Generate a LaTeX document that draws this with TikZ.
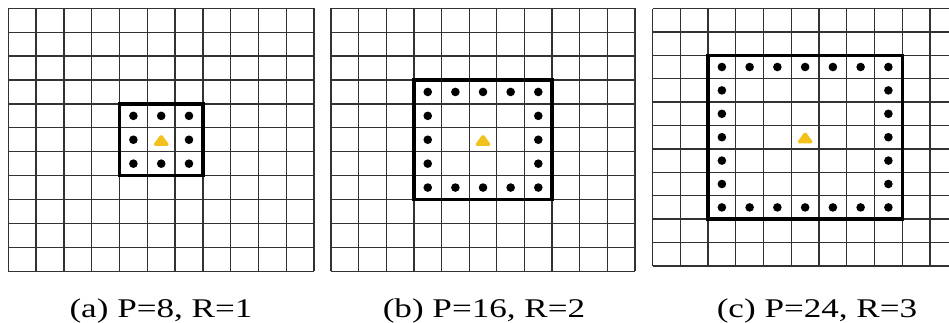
\documentclass[tikz,border=0pt]{standalone}
\usepackage{fontspec}
\setmainfont{Liberation Serif}
\definecolor{triyellow}{RGB}{243,193,30}
\definecolor{gridgray}{RGB}{50,50,50}
\tikzset{
  gridline/.style={draw=gridgray, line width=1.3pt},
  boxline/.style={draw=black, line width=3.4pt, line join=miter},
  dotmark/.style={fill=black},
  trimark/.style={fill=triyellow, draw=triyellow, line width=1.2pt, rounded corners=1.5pt},
  caption/.style={anchor=base, inner sep=0pt, font=\fontsize{27}{30}\selectfont}
}
% #1 left, #2 top, #3 cell width, #4 cell height, #5 first box index, #6 last box index
\newcommand{\drawpanel}[6]{%
  \foreach \i in {0,...,11}{
    \draw[gridline] ({#1+\i*#3},{#2}) -- ({#1+\i*#3},{#2+11*#4});
    \draw[gridline] ({#1},{#2+\i*#4}) -- ({#1+11*#3},{#2+\i*#4});
  }
  \draw[boxline] ({#1+#5*#3},{#2+#5*#4}) rectangle ({#1+#6*#3},{#2+#6*#4});
  \pgfmathtruncatemacro\lastidx{#6-1}
  \foreach \i in {#5,...,\lastidx}{
    \foreach \j in {#5,...,\lastidx}{
      \pgfmathtruncatemacro\onedge{(\i==#5)||(\i==\lastidx)||(\j==#5)||(\j==\lastidx)}
      \ifnum\onedge=1
        \fill[dotmark] ({#1+(\i+0.5)*#3},{#2+(\j+0.5)*#4}) circle[radius=4.3pt];
      \fi
    }
  }
  \fill[trimark] ({#1+5.5*#3-7.5},{#2+5.5*#4+5.5}) -- ({#1+5.5*#3+7.5},{#2+5.5*#4+5.5}) -- ({#1+5.5*#3},{#2+5.5*#4-5}) -- cycle;
}
\begin{document}
\begin{tikzpicture}[x=1pt,y=-1pt]
  \useasboundingbox (0,0) rectangle (949,322);
  \fill[white] (0,0) rectangle (949,322);
  \begin{scope}
    \clip (0,0) rectangle (949,322);
    \drawpanel{8.3}{8.3}{27.8}{23.9}{4}{7}
    \drawpanel{331}{8.3}{27.64}{23.9}{3}{8}
    \drawpanel{652.5}{8.5}{27.75}{23.4}{2}{9}
  \end{scope}
  \node[caption] (capa) at (161,317) {\scalebox{1.3}[1]{(a) P=8, R=1}};
  \node[caption] (capb) at (484,317) {\scalebox{1.3}[1]{(b) P=16, R=2}};
  \node[caption] (capc) at (817,317) {\scalebox{1.3}[1]{(c) P=24, R=3}};
\end{tikzpicture}
\end{document}
